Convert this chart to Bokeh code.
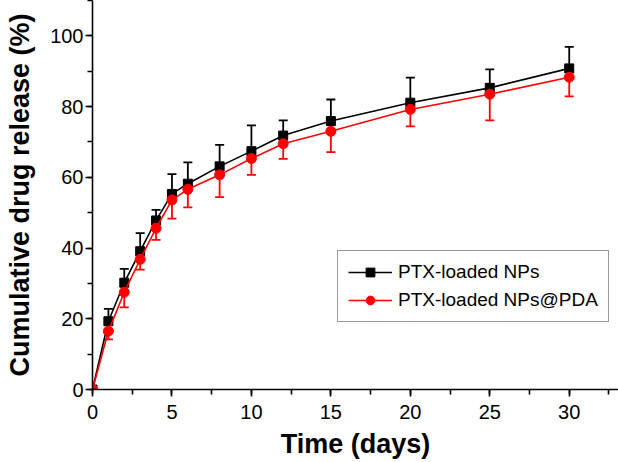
from bokeh.plotting import figure
from bokeh.models import (ColumnDataSource, Whisker, TeeHead, SingleIntervalTicker,
                          Range1d, Legend, LegendItem)
from bokeh.embed import file_html
from bokeh.resources import INLINE

time_days = [0, 1, 2, 3, 4, 5, 6, 8, 10, 12, 15, 20, 25, 30]
nps = [0, 19.3, 30.2, 39.1, 47.8, 55.3, 58.2, 63.1, 67.4, 71.8, 75.9, 81.1, 85.3, 90.8]
nps_err = [0, 3.5, 3.9, 5.1, 3.0, 5.6, 6.0, 6.1, 7.3, 4.3, 6.1, 7.1, 5.2, 6.1]
pda = [0, 16.5, 27.5, 36.8, 45.6, 53.6, 56.6, 60.7, 65.3, 69.5, 73.0, 79.2, 83.5, 88.3]
pda_err = [0, 2.3, 4.3, 2.9, 3.3, 5.3, 5.1, 6.3, 4.6, 4.3, 5.9, 4.8, 7.4, 5.4]

label_nps = "PTX-loaded NPs"
label_pda = "PTX-loaded NPs@PDA"

src_nps = ColumnDataSource(dict(x=time_days, y=nps,
                                up=[a + b for a, b in zip(nps, nps_err)]))
src_pda = ColumnDataSource(dict(x=time_days, y=pda,
                                lo=[a - b for a, b in zip(pda, pda_err)]))

FONT = "Liberation Sans"

p = figure(frame_width=526, frame_height=389, output_backend="svg", toolbar_location=None,
           x_range=Range1d(0, 33.1), y_range=Range1d(0, 110),
           min_border_left=92, min_border_right=0, min_border_top=0,
           min_border_bottom=73)
p.outline_line_color = None
p.xgrid.visible = False
p.ygrid.visible = False
p.background_fill_color = "white"

# error bars
wn = Whisker(source=src_nps, base="x", lower="y", upper="up",
             line_color="black", line_width=1.8,
             upper_head=TeeHead(size=9, line_color="black", line_width=1.8),
             lower_head=None)
wp = Whisker(source=src_pda, base="x", lower="lo", upper="y",
             line_color="#ff0000", line_width=1.8,
             lower_head=TeeHead(size=9, line_color="#ff0000", line_width=1.8),
             upper_head=None)
p.add_layout(wn)
p.add_layout(wp)

l1 = p.line("x", "y", source=src_nps, line_color="black", line_width=1.6)
m1 = p.scatter("x", "y", source=src_nps, marker="square", size=9,
               fill_color="black", line_color="black")
l2 = p.line("x", "y", source=src_pda, line_color="#ff0000", line_width=1.6)
m2 = p.scatter("x", "y", source=src_pda, marker="circle", size=10,
               fill_color="#ff0000", line_color="#ff0000")

legend = Legend(items=[LegendItem(label=label_nps, renderers=[l1, m1]),
                       LegendItem(label=label_pda, renderers=[l2, m2])],
                location=(245, 67))
legend.label_text_font = FONT
legend.label_text_font_size = "19px"
legend.label_text_color = "black"
legend.glyph_width = 44
legend.glyph_height = 22
legend.label_height = 22
legend.label_standoff = 6
legend.spacing = 6
legend.padding = 10
legend.margin = 0
legend.border_line_color = "#333333"
legend.border_line_width = 1.5
legend.background_fill_alpha = 1
p.add_layout(legend, "center")

# axes
p.xaxis.ticker = SingleIntervalTicker(interval=5, num_minor_ticks=2)
p.yaxis.ticker = SingleIntervalTicker(interval=20, num_minor_ticks=2)
for ax in (p.xaxis[0], p.yaxis[0]):
    ax.axis_line_color = "black"
    ax.axis_line_width = 1.6
    ax.major_tick_line_color = "black"
    ax.major_tick_line_width = 1.6
    ax.minor_tick_line_color = "black"
    ax.minor_tick_line_width = 1.6
    ax.major_tick_in = 0
    ax.minor_tick_in = 0
    ax.major_tick_out = 7
    ax.minor_tick_out = 5
    ax.major_label_text_font = FONT
    ax.major_label_text_font_size = "20px"
    ax.major_label_text_color = "black"
    ax.axis_label_text_font = FONT
    ax.axis_label_text_font_style = "bold"
    ax.axis_label_text_font_size = "27px"
    ax.axis_label_text_color = "black"

p.xaxis.axis_label = "Time (days)"
p.yaxis.axis_label = "Cumulative drug release (%)"
p.xaxis.major_label_standoff = 8
p.xaxis.axis_label_standoff = 7
p.yaxis.major_label_standoff = 2
p.yaxis.axis_label_standoff = 12

open("out.html", "w").write(file_html(p, INLINE))
